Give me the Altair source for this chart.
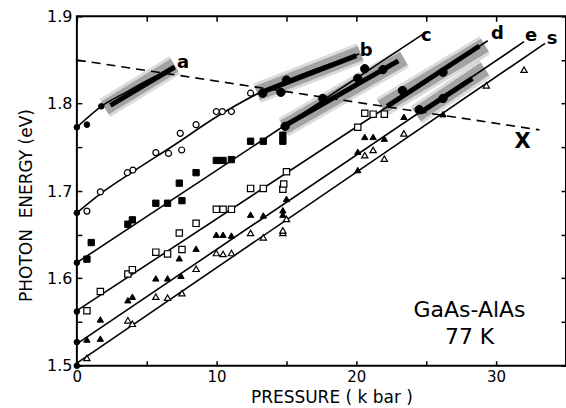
import altair as alt
import pandas as pd

# ---------------- data ----------------
# fitted curves a and b (kbar, eV)
curve_a_x = [0, 1.75, 3.5, 5.2, 7.0]
curve_a_y = [1.773, 1.797, 1.813, 1.828, 1.842]
curve_b_x = [0, 1.7, 4.0, 7.0, 10.0, 13.0, 16.5, 20.2]
curve_b_y = [1.675, 1.697, 1.722, 1.753, 1.785, 1.812, 1.836, 1.857]

# straight fitted lines c, d, e, s (start / end)
line_names = ["c", "d", "e", "s"]
line_x0 = [0, 0, 0, 0]
line_y0 = [1.618, 1.563, 1.525, 1.503]
line_x1 = [24.8, 29.4, 32.0, 33.5]
line_y1 = [1.880, 1.872, 1.871, 1.869]

# X (dashed) line
dash_x = [0, 33.1]
dash_y = [1.850, 1.770]

# shaded bands and their dark cores
band_names = ["a", "b", "c", "d", "e"]
band_x0 = [2.0, 12.9, 14.8, 21.8, 24.3]
band_y0 = [1.795, 1.812, 1.773, 1.796, 1.787]
band_x1 = [7.0, 20.3, 23.4, 29.2, 29.2]
band_y1 = [1.844, 1.858, 1.852, 1.867, 1.840]
core_x0 = [2.4, 13.2, 14.9, 22.2, 24.6]
core_y0 = [1.798, 1.813, 1.775, 1.797, 1.790]
core_x1 = [7.0, 20.0, 23.0, 28.8, 28.3]
core_y1 = [1.842, 1.855, 1.849, 1.866, 1.829]

# measured points
dot_x = [0, 0.72, 1.75, 0, 0, 0, 0, 0]
dot_y = [1.773, 1.776, 1.797, 1.675, 1.618, 1.562, 1.527, 1.500]
blob_x = [13.3, 15.0, 14.6, 14.9, 17.6, 20.1, 20.6, 21.9, 23.3, 26.2, 26.2, 24.5]
blob_y = [1.812, 1.827, 1.813, 1.774, 1.806, 1.829, 1.840, 1.839, 1.815, 1.836, 1.806, 1.793]

ocirc_x = [0.72, 1.68, 3.61, 4.01, 5.65, 6.56, 7.5, 7.4, 8.53, 9.98, 10.41, 11.06, 12.43]
ocirc_y = [1.677, 1.699, 1.721, 1.724, 1.744, 1.743, 1.747, 1.766, 1.776, 1.791, 1.791, 1.791, 1.812]

fsq_x = [0.72, 1.03, 3.65, 3.97, 5.65, 6.49, 7.33, 7.52, 8.53, 9.98, 10.46, 11.06, 12.43, 13.34, 14.74, 14.74]
fsq_y = [1.622, 1.641, 1.662, 1.667, 1.686, 1.686, 1.709, 1.689, 1.721, 1.735, 1.735, 1.736, 1.757, 1.757, 1.764, 1.757]

osq_x = [0.72, 1.68, 3.65, 3.97, 5.65, 6.49, 7.33, 7.52, 8.53, 9.98, 10.46, 11.06, 12.43, 13.34, 14.74, 14.8, 15.0, 20.1, 20.6, 21.2, 22.0]
osq_y = [1.563, 1.585, 1.605, 1.610, 1.630, 1.628, 1.652, 1.633, 1.663, 1.679, 1.679, 1.679, 1.703, 1.703, 1.702, 1.708, 1.722, 1.773, 1.789, 1.788, 1.788]

ftri_x = [0.72, 1.68, 3.65, 3.97, 5.65, 6.49, 7.33, 7.45, 8.53, 9.98, 10.46, 11.06, 12.43, 13.34, 14.74, 14.74, 15.0,
          20.1, 20.6, 21.2, 22.0, 23.4, 1.68, 20.1, 26.2]
ftri_y = [1.530, 1.553, 1.575, 1.579, 1.600, 1.600, 1.623, 1.603, 1.634, 1.650, 1.650, 1.649, 1.673, 1.672, 1.678, 1.673, 1.691,
          1.745, 1.762, 1.762, 1.760, 1.785, 1.531, 1.724, 1.788]

otri_x = [0.72, 3.65, 3.97, 5.65, 6.49, 7.52, 8.53, 9.98, 10.46, 11.06, 12.43, 13.34, 14.74, 14.74, 15.0,
          20.6, 21.2, 22.0, 23.4, 29.3, 32.0]
otri_y = [1.509, 1.552, 1.548, 1.579, 1.578, 1.583, 1.611, 1.629, 1.628, 1.629, 1.652, 1.647, 1.652, 1.655, 1.668,
          1.741, 1.747, 1.737, 1.766, 1.821, 1.839]

# curve labels
lab_text = ["a", "b", "c", "d", "e", "s"]
lab_x = [7.6, 20.7, 25.0, 30.1, 32.5, 34.0]
lab_y = [1.847, 1.860, 1.878, 1.880, 1.878, 1.874]
x_lab_text = ["X"]
x_lab_x = [31.9]
x_lab_y = [1.756]

note_text = ["GaAs-AlAs", "77 K"]
note_x = [28.1, 28.1]
note_y = [1.564, 1.533]

x_ticks = [0, 5, 10, 15, 20, 25, 30, 35]
y_ticks = [1.5, 1.55, 1.6, 1.65, 1.7, 1.75, 1.8, 1.85, 1.9]

# ---------------- tables ----------------
curves = pd.DataFrame({
    "x": curve_a_x + curve_b_x,
    "y": curve_a_y + curve_b_y,
    "k": ["a"] * len(curve_a_x) + ["b"] * len(curve_b_x),
})
lines = pd.DataFrame({
    "x": line_x0 + line_x1,
    "y": line_y0 + line_y1,
    "k": line_names + line_names,
})
bands = pd.DataFrame({"x": band_x0 + band_x1, "y": band_y0 + band_y1, "k": band_names + band_names})
cores = pd.DataFrame({"x": core_x0 + core_x1, "y": core_y0 + core_y1, "k": band_names + band_names})
dash = pd.DataFrame({"x": dash_x, "y": dash_y})
labels = pd.DataFrame({"x": lab_x, "y": lab_y, "t": lab_text})
xlabel = pd.DataFrame({"x": x_lab_x, "y": x_lab_y, "t": x_lab_text})
notes = pd.DataFrame({"x": note_x, "y": note_y, "t": note_text})

XS = alt.Scale(domain=[0, 35], nice=False, zero=False)
YS = alt.Scale(domain=[1.5, 1.9], nice=False, zero=False)
FONT = "DejaVu Sans"

ax_bottom = alt.Axis(
    orient="bottom", values=x_ticks, offset=-5, tickSize=5, tickWidth=1.5, tickColor="black",
    domain=False, grid=False, labelFlush=False, labelOverlap=False,
    labelExpr="datum.value % 10 == 0 ? datum.label : ''",
    labelPadding=4, labelFont=FONT, labelFontSize=15, labelColor="black",
    title="PRESSURE ( k bar )", titleFont=FONT, titleFontSize=17, titleFontWeight="normal",
    titleColor="black", titleX=255, titleY=37, titleAlign="center", titleBaseline="middle",
)
ax_left = alt.Axis(
    orient="left", values=y_ticks, offset=-5, tickSize=5, tickWidth=1.5, tickColor="black",
    domain=False, grid=False, labelOverlap=False,
    labelExpr="round(datum.value * 100) % 10 == 0 ? format(datum.value, '.1f') : ''",
    labelPadding=5, labelFont=FONT, labelFontSize=16, labelColor="black",
    title="PHOTON\u00a0\u00a0ENERGY\u00a0(eV)", titleFont=FONT, titleFontSize=17, titleFontWeight="normal",
    titleColor="black", titleX=-55, titleY=189, titleAngle=270, titleAlign="center", titleBaseline="middle",
)
ax_top = alt.Axis(orient="top", values=x_ticks, offset=-5, tickSize=5, tickWidth=1.5, tickColor="black",
                  domain=False, grid=False, labels=False, title=None)
ax_right = alt.Axis(orient="right", values=y_ticks, offset=-5, tickSize=5, tickWidth=1.5, tickColor="black",
                    domain=False, grid=False, labels=False, title=None)


def enc(xa=None, ya=None):
    return dict(
        x=alt.X("x:Q", scale=XS, axis=xa),
        y=alt.Y("y:Q", scale=YS, axis=ya),
    )


fuzz_layer = alt.Chart(bands).mark_line(
    color="#b0b0b0", strokeWidth=21, opacity=0.45, strokeCap="butt"
).encode(detail="k:N", **enc(ax_bottom, ax_left))

band_layer = alt.Chart(bands).mark_line(
    color="#8c8c8c", strokeWidth=15, opacity=0.7, strokeCap="butt"
).encode(detail="k:N", **enc())

core_layer = alt.Chart(cores).mark_line(
    color="black", strokeWidth=5, strokeCap="butt"
).encode(detail="k:N", **enc())

curve_layer = alt.Chart(curves).mark_line(
    color="black", strokeWidth=1.6, interpolate="monotone"
).encode(detail="k:N", **enc())

line_layer = alt.Chart(lines).mark_line(color="black", strokeWidth=1.6).encode(detail="k:N", **enc())

dash_layer = alt.Chart(dash).mark_line(
    color="black", strokeWidth=1.6, strokeDash=[9, 6]
).encode(**enc(ax_top, ax_right))


def pts(xs, ys, shape, size, filled):
    df = pd.DataFrame({"x": xs, "y": ys})
    if filled:
        m = alt.Chart(df).mark_point(shape=shape, size=size, filled=True, fill="black", stroke="black",
                                     strokeWidth=1, opacity=1)
    else:
        m = alt.Chart(df).mark_point(shape=shape, size=size, filled=True, fill="white", stroke="black",
                                     strokeWidth=1.2, fillOpacity=1, opacity=1)
    return m.encode(**enc())


dots = pts(dot_x, dot_y, "circle", 32, True)
blobs = pts(blob_x, blob_y, "circle", 70, True)
ocirc = pts(ocirc_x, ocirc_y, "circle", 36, False)
fsq = pts(fsq_x, fsq_y, "square", 40, True)
osq = pts(osq_x, osq_y, "square", 40, False)
ftri = pts(ftri_x, ftri_y, "triangle-up", 40, True)
otri = pts(otri_x, otri_y, "triangle-up", 40, False)

lab_layer = alt.Chart(labels).mark_text(
    font=FONT, fontSize=18, fontWeight="bold", color="black", align="center", baseline="middle"
).encode(text="t:N", **enc())

xlab_layer = alt.Chart(xlabel).mark_text(
    font=FONT, fontSize=21, fontWeight="bold", color="black", align="center", baseline="middle"
).encode(text="t:N", **enc())

note_layer = alt.Chart(notes).mark_text(
    font=FONT, fontSize=22, color="black", align="center", baseline="middle"
).encode(text="t:N", **enc())

chart = alt.layer(
    fuzz_layer, band_layer, core_layer, curve_layer, line_layer, dash_layer,
    dots, blobs, ocirc, fsq, osq, ftri, otri, lab_layer, xlab_layer, note_layer,
).resolve_axis(x="independent", y="independent").properties(
    width=490, height=350,
    autosize=alt.AutoSizeParams(type="none"),
    padding={"left": 77, "top": 16, "right": 0, "bottom": 42},
    background="white",
).configure_view(stroke="black", strokeWidth=2)

chart.save("out.html", embed_options={"renderer": "svg", "actions": False})
